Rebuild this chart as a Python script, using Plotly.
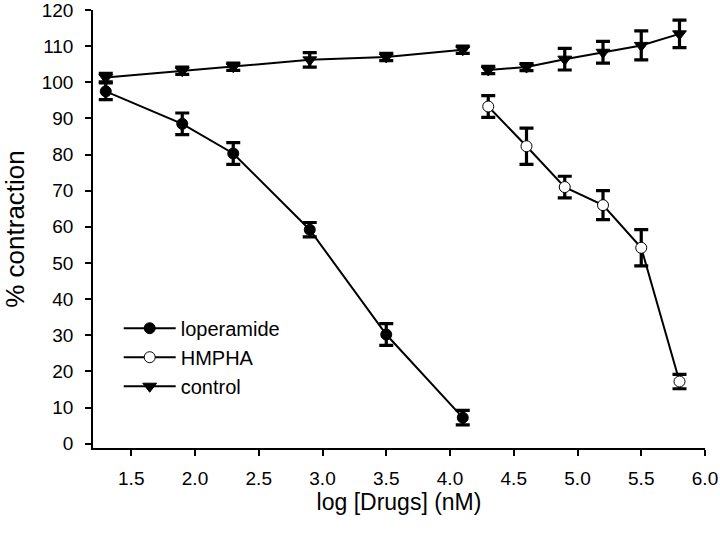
import plotly.graph_objects as go

# Data
lop_x = [1.3, 1.9, 2.3, 2.9, 3.5, 4.1]
lop_y = [97.5, 88.5, 80.3, 59.2, 30.2, 7.2]
lop_err = [2.3, 3.0, 3.0, 2.0, 3.0, 2.0]

hm_x = [4.3, 4.6, 4.9, 5.2, 5.5, 5.8]
hm_y = [93.3, 82.3, 71.0, 66.0, 54.2, 17.2]
hm_err = [3.0, 5.0, 3.0, 4.0, 5.0, 2.0]

ctrl1_x = [1.3, 1.9, 2.3, 2.9, 3.5, 4.1]
ctrl1_y = [101.3, 103.2, 104.3, 106.2, 107.0, 109.0]
ctrl1_err = [1.2, 1.0, 1.0, 2.0, 1.0, 1.0]

ctrl2_x = [4.3, 4.6, 4.9, 5.2, 5.5, 5.8]
ctrl2_y = [103.4, 104.2, 106.4, 108.3, 110.2, 113.4]
ctrl2_err = [1.0, 1.0, 3.0, 3.0, 4.0, 3.8]

x_ticks = [1.5, 2.0, 2.5, 3.0, 3.5, 4.0, 4.5, 5.0, 5.5, 6.0]
x_ticklabels = ["1.5", "2.0", "2.5", "3.0", "3.5", "4.0", "4.5", "5.0", "5.5", "6.0"]
y_ticks = list(range(0, 121, 10))

ctrl_x = ctrl1_x + [None] + ctrl2_x
ctrl_y = ctrl1_y + [None] + ctrl2_y
ctrl_err = ctrl1_err + [0] + ctrl2_err

FONT = "Liberation Sans, Arial, sans-serif"

def err(arr):
    return dict(type="data", array=arr, visible=True, color="black", thickness=3.2, width=7)

fig = go.Figure()
fig.add_trace(go.Scatter(
    x=lop_x, y=lop_y, error_y=err(lop_err), name="loperamide", mode="lines+markers",
    line=dict(color="black", width=2),
    marker=dict(symbol="circle", size=11, color="black", line=dict(color="black", width=1)),
))
fig.add_trace(go.Scatter(
    x=hm_x, y=hm_y, error_y=err(hm_err), name="HMPHA", mode="lines+markers",
    line=dict(color="black", width=2),
    marker=dict(symbol="circle", size=11, color="white", line=dict(color="black", width=1)),
))
fig.add_trace(go.Scatter(
    x=ctrl_x, y=ctrl_y, error_y=err(ctrl_err), name="control", mode="lines+markers",
    connectgaps=False,
    line=dict(color="black", width=2),
    marker=dict(symbol="triangle-down", size=12, color="black", line=dict(color="black", width=1)),
))

fig.update_layout(
    width=720, height=533,
    margin=dict(l=93, r=15, t=10, b=85, autoexpand=False),
    paper_bgcolor="white", plot_bgcolor="white",
    font=dict(family=FONT, size=19, color="black"),
    showlegend=True,
    legend=dict(
        x=0.042, y=0.318, xanchor="left", yanchor="top",
        bgcolor="rgba(0,0,0,0)", font=dict(size=20, family=FONT),
        itemwidth=52, tracegroupgap=0,
    ),
    xaxis=dict(
        range=[1.2, 6.0], tickmode="array", tickvals=x_ticks, ticktext=x_ticklabels,
        showgrid=False, zeroline=False, showline=True, linecolor="black", linewidth=1.5,
        ticks="outside", ticklen=6, tickwidth=1.5, tickcolor="black",
        tickfont=dict(size=19, family=FONT), ticklabelstandoff=6, ticklabeloverflow="allow",
        automargin=False,
        title=dict(text="log [Drugs] (nM)", font=dict(size=23, family=FONT), standoff=0),
    ),
    yaxis=dict(
        range=[-1.2, 120], tickmode="array", tickvals=y_ticks,
        showgrid=False, zeroline=False, showline=True, linecolor="black", linewidth=1.5,
        ticks="outside", ticklen=6, tickwidth=1.5, tickcolor="black",
        tickfont=dict(size=19, family=FONT), ticklabelstandoff=8, ticklabeloverflow="allow",
        automargin=False,
        title=dict(text="% contraction", font=dict(size=26, family=FONT), standoff=10),
    ),
)

fig.write_html(
    "out.html",
    config={"displayModeBar": False},
    post_script="document.body.style.margin='0';document.body.style.overflow='hidden';",
)
